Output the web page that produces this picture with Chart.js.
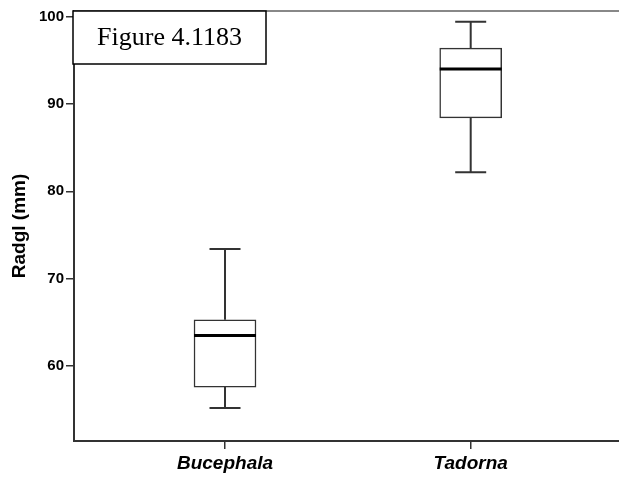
<!DOCTYPE html>
<html>
<head>
<meta charset="utf-8">
<script src="https://cdn.jsdelivr.net/npm/chart.js@4/dist/chart.umd.min.js"></script>
<style>
  html, body { margin: 0; padding: 0; background: #ffffff; }
  #wrap { width: 619px; height: 479px; }
</style>
</head>
<body>
<div id="wrap"><canvas id="c" width="619" height="479"></canvas></div>
<script>
// ---- data ----
const categories   = ['Bucephala', 'Tadorna'];
const whiskerLow   = [55.2, 82.2];
const quartile1    = [57.6, 88.4];
const medians      = [63.5, 94.0];
const quartile3    = [65.3, 96.4];
const whiskerHigh  = [73.4, 99.4];
const yTickValues  = [60, 70, 80, 90, 100];
const yTitle       = 'Radgl (mm)';
const figureLabel  = 'Figure 4.1183';

const AXIS = '#333333';

const boxPlugin = {
  id: 'boxParts',
  afterDatasetsDraw(chart) {
    const {ctx, scales: {x, y}} = chart;
    const meta = chart.getDatasetMeta(0);
    ctx.save();
    categories.forEach((c, i) => {
      const cx = x.getPixelForValue(i);
      const bw = meta.data[i] ? meta.data[i].width : 62;
      const cap = bw / 4;
      ctx.strokeStyle = AXIS;
      ctx.lineWidth = 2;
      ctx.beginPath();
      ctx.moveTo(cx, y.getPixelForValue(quartile3[i]));
      ctx.lineTo(cx, y.getPixelForValue(whiskerHigh[i]));
      ctx.moveTo(cx, y.getPixelForValue(quartile1[i]));
      ctx.lineTo(cx, y.getPixelForValue(whiskerLow[i]));
      ctx.moveTo(cx - cap, y.getPixelForValue(whiskerHigh[i]));
      ctx.lineTo(cx + cap, y.getPixelForValue(whiskerHigh[i]));
      ctx.moveTo(cx - cap, y.getPixelForValue(whiskerLow[i]));
      ctx.lineTo(cx + cap, y.getPixelForValue(whiskerLow[i]));
      ctx.stroke();
      ctx.strokeStyle = '#000000';
      ctx.lineWidth = 3;
      ctx.beginPath();
      ctx.moveTo(cx - bw / 2, y.getPixelForValue(medians[i]));
      ctx.lineTo(cx + bw / 2, y.getPixelForValue(medians[i]));
      ctx.stroke();
    });
    ctx.restore();
  },
  afterDraw(chart) {
    const {ctx, chartArea} = chart;
    ctx.save();
    // top frame line
    ctx.strokeStyle = '#888888';
    ctx.lineWidth = 2;
    ctx.beginPath();
    ctx.moveTo(chartArea.left, chartArea.top);
    ctx.lineTo(chartArea.right, chartArea.top);
    ctx.stroke();
    // figure label box
    const bx = chartArea.left - 1, by = chartArea.top, bwid = 193, bh = 53;
    ctx.fillStyle = '#ffffff';
    ctx.fillRect(bx, by, bwid, bh);
    ctx.strokeStyle = '#000000';
    ctx.lineWidth = 1.5;
    ctx.strokeRect(bx, by, bwid, bh);
    ctx.fillStyle = '#000000';
    ctx.font = '26px "Liberation Serif", "Times New Roman", serif';
    ctx.textAlign = 'center';
    ctx.textBaseline = 'middle';
    ctx.fillText(figureLabel, bx + bwid / 2, by + bh / 2 + 1);
    ctx.restore();
  }
};

new Chart(document.getElementById('c'), {
  type: 'bar',
  data: {
    datasets: [{
      data: categories.map((c, i) => ({x: i, y: [quartile1[i], quartile3[i]]})),
      backgroundColor: '#ffffff',
      borderColor: AXIS,
      borderWidth: 1.5,
      borderSkipped: false,
      barThickness: 62
    }]
  },
  options: {
    responsive: false,
    animation: false,
    layout: {padding: {top: 9, right: 0, left: 0, bottom: 0}},
    plugins: {legend: {display: false}, tooltip: {enabled: false}},
    scales: {
      x: {
        type: 'linear',
        offset: false,
        min: -0.6146,
        max: 1.6036,
        afterBuildTicks(scale) { scale.ticks = categories.map((c, i) => ({value: i})); },
        afterFit(scale) { scale.height = 38; },
        grid: {display: true, offset: false, drawOnChartArea: false, drawTicks: true, tickLength: 8, color: AXIS, lineWidth: 1.5},
        border: {display: true, color: AXIS, width: 2},
        ticks: {
          autoSkip: false,
          maxRotation: 0,
          padding: 3,
          color: '#000000',
          font: {family: '"Liberation Sans", Arial, sans-serif', size: 19, weight: 'bold', style: 'italic'},
          callback: (v) => categories[v]
        }
      },
      y: {
        type: 'linear',
        min: 51.43,
        max: 100.64,
        afterBuildTicks(scale) { scale.ticks = yTickValues.map(v => ({value: v})); },
        afterFit(scale) { scale.width = 74; },
        grid: {display: true, drawOnChartArea: false, drawTicks: true, tickLength: 8, color: AXIS, lineWidth: 1.5},
        border: {display: true, color: AXIS, width: 2},
        title: {
          display: true,
          text: yTitle,
          color: '#000000',
          padding: {top: 8, bottom: 0},
          font: {family: '"Liberation Sans", Arial, sans-serif', size: 19, weight: 'bold'}
        },
        ticks: {
          padding: 2,
          color: '#000000',
          font: {family: '"Liberation Sans", Arial, sans-serif', size: 15, weight: 'bold'}
        }
      }
    }
  },
  plugins: [boxPlugin]
});
</script>
</body>
</html>
